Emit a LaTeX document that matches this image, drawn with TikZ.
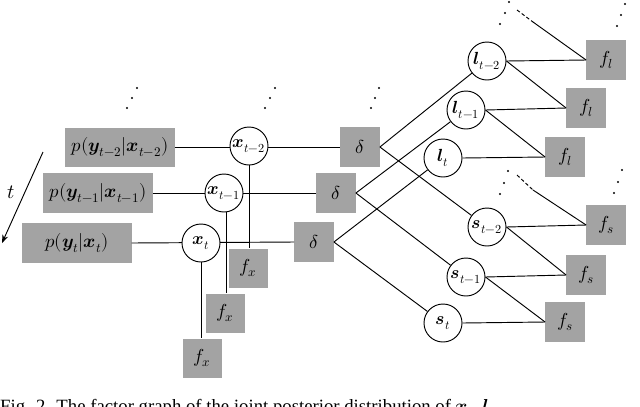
\documentclass[tikz,border=0pt]{standalone}
\usepackage{amsmath}
\usepackage{fontspec}
\setmainfont{Liberation Serif}
\usepackage{unicode-math}
\setmathfont{Latin Modern Math}
\usetikzlibrary{arrows.meta}
\begin{document}
\begin{tikzpicture}[x=0.03cm,y=-0.03cm,
  fac/.style={fill=facg, draw=none, inner sep=0pt, font=\fontsize{16}{19}\selectfont},
  var/.style={circle, draw, thick, fill=white, minimum size=1.14cm, inner sep=0pt, font=\fontsize{15}{18}\selectfont},
  ln/.style={thick},
  dt/.style={circle, fill=black, inner sep=0pt, minimum size=2pt}
]
\definecolor{facg}{RGB}{163,163,163}
\useasboundingbox (0,0) rectangle (640,406);
\clip (0,0) rectangle (640,406);

% likelihood factors
\node[fac, minimum width=3.27cm, minimum height=1.17cm] (p2) at (120,147) {$p(\symbfit{y}_{t-2}|\symbfit{x}_{t-2})$};
\node[fac, minimum width=3.3cm, minimum height=1.2cm] (p1) at (98,193) {$p(\symbfit{y}_{t-1}|\symbfit{x}_{t-1})$};
\node[fac, minimum width=3.27cm, minimum height=1.2cm] (p0) at (77,243) {$p(\symbfit{y}_{t}|\symbfit{x}_{t})$};

% delta factors
\node[fac, minimum size=1.18cm] (d2) at (360,147) {$\delta$};
\node[fac, minimum size=1.18cm] (d1) at (336,193) {$\delta$};
\node[fac, minimum size=1.18cm] (d0) at (314,242) {$\delta$};

% transition factors
\node[fac, minimum size=1.17cm] (fx2) at (248,268) {$f_x$};
\node[fac, minimum size=1.17cm] (fx1) at (225,313) {$f_x$};
\node[fac, minimum size=1.17cm] (fx0) at (202,358) {$f_x$};

% l and s factors
\node[fac, minimum size=1.18cm] (fl2) at (606,60) {$f_l$};
\node[fac, minimum size=1.18cm] (fl1) at (586,108) {$f_l$};
\node[fac, minimum size=1.18cm] (fl0) at (565,157) {$f_l$};
\node[fac, minimum size=1.18cm] (fs2) at (606,225) {$f_s$};
\node[fac, minimum size=1.18cm] (fs1) at (586,275) {$f_s$};
\node[fac, minimum size=1.18cm] (fs0) at (565,322) {$f_s$};

% edges behind variables
\draw[ln] (p2.east) -- (d2.west);
\draw[ln] (p1.east) -- (d1.west);
\draw[ln] (p0.east) -- (d0.west);
\draw[ln] (249,146) -- (fx2.north -| 249,0);
\draw[ln] (226,193) -- (fx1.north -| 226,0);
\draw[ln] (201,243) -- (fx0.north -| 201,0);

% variables
\node[var] (x2) at (249,146) {$\symbfit{x}_{t-2}$};
\node[var] (x1) at (224,193) {$\symbfit{x}_{t-1}$};
\node[var] (x0) at (201,243) {$\symbfit{x}_{t}$};
\node[var] (l2) at (487,61) {$\symbfit{l}_{t-2}$};
\node[var] (l1) at (466,110) {$\symbfit{l}_{t-1}$};
\node[var] (l0) at (443,158) {$\symbfit{l}_{t}$};
\node[var] (s2) at (487,227) {$\symbfit{s}_{t-2}$};
\node[var] (s1) at (466,277) {$\symbfit{s}_{t-1}$};
\node[var] (s0) at (443,323) {$\symbfit{s}_{t}$};

% delta to l, s
\foreach \i in {0,1,2} {
  \draw[ln] (d\i.east) -- (l\i);
  \draw[ln] (d\i.east) -- (s\i);
}
% chains
\draw[ln] (l2.east) -- (fl2.west);
\draw[ln] (l2.east) -- (fl1.west);
\draw[ln] (l1.east) -- (fl1.west);
\draw[ln] (l1.east) -- (fl0.west);
\draw[ln] (l0.east) -- (fl0.west);
\draw[ln] (s2.east) -- (fs2.west);
\draw[ln] (s2.east) -- (fs1.west);
\draw[ln] (s1.east) -- (fs1.west);
\draw[ln] (s1.east) -- (fs0.west);
\draw[ln] (s0.east) -- (fs0.west);
\coordinate (la) at (533,22);
\coordinate (sa) at (533,190);
\draw[ln] (la) -- (fl2.west);
\draw[ln] (sa) -- (fs2.west);
\draw[ln, dash pattern=on 3pt off 2pt] (517,10) -- (la);
\draw[ln, dash pattern=on 3pt off 2pt] (517,175) -- (sa);

% continuation dots
\foreach \x/\y in {127/108,132/98,137/88, 265/108,270/98,275/88, 371/108,375/98,379/88,
  500/24,505/13,509/2, 617/26,621/15,625/4, 500/194,504/183,508/171, 614/193,618/182,622/170}
  \node[dt] at (\x,\y) {};

% time arrow
\node[font=\LARGE] (tl) at (11,192) {$t$};
\coordinate (ta) at (43,152);
\coordinate (tb) at (2,243);
\draw[thick,-{Stealth[length=7pt]}] (ta) -- (tb);

% caption (cut off as in the source)
\node[anchor=base west, font=\fontsize{16}{19}\selectfont, inner sep=0pt] (cap) at (0,412) {Fig. 2. The factor graph of the joint posterior distribution of $\symbfit{x}_t$, $\symbfit{l}_t$};
\end{tikzpicture}
\end{document}
